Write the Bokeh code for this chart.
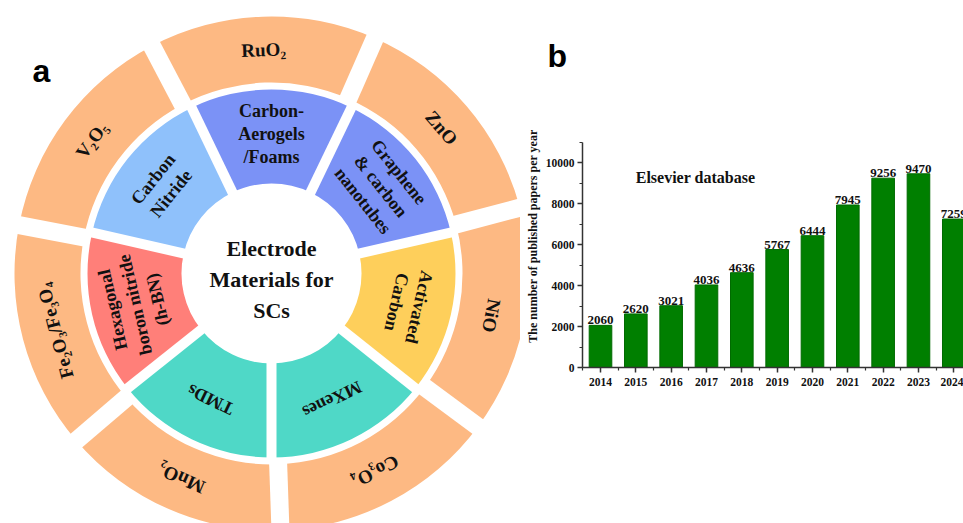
import math
from bokeh.plotting import figure
from bokeh.layouts import row
from bokeh.models import Range1d, FixedTicker, Label, Title
from bokeh.core.properties import value
from bokeh.embed import file_html
from bokeh.resources import INLINE

# ---------------- data ----------------
inner_labels = ["MXenes", "Activated\nCarbon", "Graphene\n& carbon\nnanotubes",
                "Carbon-\nAerogels\n/Foams", "Carbon\nNitride",
                "Hexagonal\nboron nitride\n(h-BN)", "TMDs"]
inner_colors = ["#4FD8C7", "#FECF5B", "#7B92F6", "#7B92F6", "#8FC1FB", "#FF7F79", "#4FD8C7"]
outer_labels = ["Co\u2083O\u2084", "NiO", "ZnO", "RuO\u2082", "V\u2082O\u2085",
                "Fe\u2082O\u2083/Fe\u2083O\u2084", "MnO\u2082"]
outer_color = "#FDB983"
center_label = "Electrode\nMaterials for\nSCs"

years = [2014, 2015, 2016, 2017, 2018, 2019, 2020, 2021, 2022, 2023, 2024]
papers = [2060, 2620, 3021, 4036, 4636, 5767, 6444, 7945, 9256, 9470, 7259]
y_ticks = [0, 2000, 4000, 6000, 8000, 10000]
y_minor = [1000, 3000, 5000, 7000, 9000, 11000]
y_axis_max = 11000

SERIF = value("Liberation Serif")

# ---------------- panel a : donut ----------------
W_TOTAL, H = 963, 523
W1 = 520
p1 = figure(width=W1, height=H, x_range=Range1d(0, W1), y_range=Range1d(-H, 0),
            x_axis_type=None, y_axis_type=None, output_backend="svg",
            toolbar_location=None, min_border=0)
p1.outline_line_color = None
p1.grid.visible = False

cx, cy = 271, -273
r0, r1, r2, r3 = 90, 184, 191, 257


def ring(labels, start_deg):
    n = len(labels)
    step = 2 * math.pi / n
    s0 = math.radians(start_deg)
    starts = [s0 + i * step for i in range(n)]
    ends = [s + step for s in starts]
    mids = [s + step / 2 for s in starts]
    return starts, ends, mids


in_s, in_e, in_m = ring(inner_labels, -90)
out_s, out_e, out_m = ring(outer_labels, -88)

p1.annular_wedge(x=cx, y=cy, inner_radius=r0, outer_radius=r1,
                 start_angle=in_s, end_angle=in_e,
                 fill_color=inner_colors, line_color=None)
p1.annular_wedge(x=cx, y=cy, inner_radius=r2, outer_radius=r3,
                 start_angle=out_s, end_angle=out_e,
                 fill_color=outer_color, line_color=None)


def gaps(angles, ra, rb, w):
    p1.segment(x0=[cx + ra * math.cos(a) for a in angles],
               y0=[cy + ra * math.sin(a) for a in angles],
               x1=[cx + rb * math.cos(a) for a in angles],
               y1=[cy + rb * math.sin(a) for a in angles],
               line_color="white", line_width=w, line_cap="butt")


gaps(in_s, r0 - 4, r1 + 4, 10)
gaps(out_s, r2 - 4, r3 + 4, 18)

ri, ro = 140, 224
p1.text(x=[cx + ri * math.cos(m) for m in in_m], y=[cy + ri * math.sin(m) for m in in_m],
        text=inner_labels, angle=[m - math.pi / 2 for m in in_m],
        text_font=SERIF, text_font_style="bold", text_font_size="18px",
        text_align="center", text_baseline="middle", text_line_height=1.15,
        text_color="#111111")
p1.text(x=[cx + ro * math.cos(m) for m in out_m], y=[cy + ro * math.sin(m) for m in out_m],
        text=outer_labels, angle=[m - math.pi / 2 for m in out_m],
        text_font=SERIF, text_font_style="bold", text_font_size="19px",
        text_align="center", text_baseline="middle", text_color="#111111")
p1.text(x=[cx], y=[cy - 6], text=[center_label], text_font=SERIF, text_font_style="bold",
        text_font_size="22px", text_align="center", text_baseline="middle",
        text_line_height=1.25, text_color="#111111")
p1.add_layout(Label(x=32, y=-70, text="a", text_font="Liberation Sans",
                    text_font_style="bold", text_font_size="32px",
                    text_align="left", text_baseline="alphabetic", text_color="black"))

# ---------------- panel b : bars ----------------
W2 = W_TOTAL - W1
px_per_year = 35.33
frame_left = 582          # page x of the y axis
axis_top, axis_bot = 142, 367   # page y of 11000 and 0
frame_top = 104
x0 = years[0] - (600 - frame_left) / px_per_year
x1 = x0 + (W_TOTAL - frame_left) / px_per_year
units_per_px = y_axis_max / (axis_bot - axis_top)
y_end = y_axis_max + (axis_top - frame_top) * units_per_px

p2 = figure(width=W2, height=H, x_range=Range1d(x0, x1), y_range=Range1d(0, y_end),
            output_backend="svg", toolbar_location=None,
            min_border_left=frame_left - W1, min_border_right=0,
            min_border_top=frame_top, min_border_bottom=H - axis_bot)
p2.outline_line_color = None
p2.grid.visible = False

for p in (p1, p2):
    try:
        p.frame_align = False
    except Exception:
        pass

p2.title = Title(text="b", text_font="Liberation Sans", text_font_style="bold",
                 text_font_size="32px", text_color="black", align="left",
                 offset=547 - frame_left, standoff=61)

p2.vbar(x=years, top=papers, width=0.64, fill_color="#007F00", line_color="#006A00",
        line_width=1)
p2.text(x=years, y=papers, text=[str(v) for v in papers], text_font=SERIF,
        text_font_style="bold", text_font_size="13px", text_align="center",
        text_baseline="bottom", y_offset=-1, text_color="#111111")

for ax in (p2.xaxis[0], p2.yaxis[0]):
    ax.axis_line_width = 1.5
    ax.axis_line_color = "#333333"
    ax.major_tick_line_color = "#333333"
    ax.minor_tick_line_color = "#333333"
    ax.major_tick_line_width = 1.5
    ax.minor_tick_line_width = 1.2
    ax.major_tick_in = 0
    ax.major_tick_out = 5
    ax.minor_tick_in = 0
    ax.minor_tick_out = 3
    ax.major_label_text_font = "Liberation Serif"
    ax.major_label_text_font_style = "bold"
    ax.major_label_text_font_size = "11.5px"
    ax.major_label_text_color = "#111111"

p2.xaxis[0].ticker = FixedTicker(ticks=years, minor_ticks=[y + 0.5 for y in [years[0] - 1] + years])
p2.xaxis[0].major_label_standoff = 5
p2.yaxis[0].ticker = FixedTicker(ticks=y_ticks, minor_ticks=y_minor)
p2.yaxis[0].bounds = (0, y_axis_max)
p2.yaxis[0].major_label_standoff = 3
p2.yaxis[0].axis_label = "The number of published papers per year"
p2.yaxis[0].axis_label_text_font = "Liberation Serif"
p2.yaxis[0].axis_label_text_font_style = "bold"
p2.yaxis[0].axis_label_text_font_size = "12px"
p2.yaxis[0].axis_label_text_color = "#111111"
p2.yaxis[0].axis_label_standoff = 3

p2.add_layout(Label(x=years[0] + (695 - 600) / px_per_year, y=(axis_bot - 177) * units_per_px,
                    text="Elsevier database", text_font="Liberation Serif",
                    text_font_style="bold", text_font_size="16px",
                    text_align="center", text_baseline="middle", text_color="#111111"))

layout = row(p1, p2)
open("out.html", "w").write(file_html(layout, INLINE))
